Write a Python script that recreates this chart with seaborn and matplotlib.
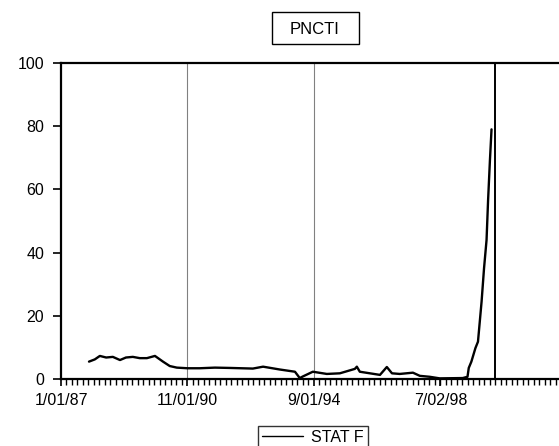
import pandas as pd
import matplotlib
matplotlib.use("Agg")
import matplotlib.pyplot as plt
import matplotlib.dates as mdates
from matplotlib.patches import Rectangle
import seaborn as sns

# Series: STAT F for PNCTI
dates = [
    "1987-11-07", "1988-01-10", "1988-03-06", "1988-05-15", "1988-07-28",
    "1988-10-15", "1988-12-20", "1989-03-06", "1989-05-22", "1989-08-09",
    "1989-11-06", "1990-02-03", "1990-04-19", "1990-07-06", "1990-11-01",
    "1991-03-16", "1991-09-01", "1992-02-15", "1992-10-25", "1993-02-15",
    "1993-08-20", "1994-02-03", "1994-03-28", "1994-05-01", "1994-08-20",
    "1995-01-22", "1995-06-15", "1995-11-28", "1995-12-20", "1996-01-22",
    "1996-09-01", "1996-11-16", "1997-01-12", "1997-04-08", "1997-09-01",
    "1997-11-16", "1998-03-06", "1998-06-25", "1999-03-06", "1999-04-28",
    "1999-05-12", "1999-06-10", "1999-07-25", "1999-08-22", "1999-10-01",
    "1999-10-28", "1999-11-25", "1999-12-12", "2000-01-01", "2000-01-19",
]
stat_f = [
    5.5, 6.2, 7.3, 6.8, 7.0,
    6.0, 6.8, 7.0, 6.6, 6.6,
    7.3, 5.5, 4.1, 3.6, 3.4,
    3.4, 3.6, 3.5, 3.3, 3.9,
    3.0, 2.3, 0.3, 0.8, 2.3,
    1.6, 1.8, 3.2, 3.9, 2.3,
    1.3, 3.8, 1.8, 1.6, 2.0,
    1.0, 0.7, 0.2, 0.3, 0.7,
    3.5, 5.5, 9.8, 11.8, 24.5,
    35.0, 44.0, 56.6, 69.0, 79.0,
]

# Reference dates marked on the chart
tick_dates = ["1987-01-01", "1990-11-01", "1994-09-01", "1998-07-02"]
tick_labels = ["1/01/87", "11/01/90", "9/01/94", "7/02/98"]
grey_marks = ["1990-11-01", "1994-09-01"]
break_mark = "2000-02-25"

df = pd.DataFrame({"date": pd.to_datetime(dates), "STAT F": stat_f})

sns.set_theme(style="white")
plt.rcParams["font.family"] = ["Liberation Sans", "DejaVu Sans"]
plt.rcParams["text.color"] = "black"

W, H = 559, 446
fig = plt.figure(figsize=(W / 100, H / 100), dpi=100)
ax = fig.add_axes([61 / W, 1 - 379 / H, 1 - 61 / W, (379 - 63) / H])

sns.lineplot(data=df, x="date", y="STAT F", ax=ax, color="black",
             linewidth=1.7, label="STAT F", legend=False)

for d in grey_marks:
    ax.axvline(pd.Timestamp(d), color="#808080", linewidth=0.8, zorder=1)
ax.axvline(pd.Timestamp(break_mark), color="black", linewidth=1.4, zorder=1)

ax.set_xlim(pd.Timestamp("1987-01-01"), pd.Timestamp("2002-02-04"))
ax.set_ylim(0, 100)
ax.set_yticks([0, 20, 40, 60, 80, 100])
ax.set_xticks(pd.to_datetime(tick_dates))
ax.set_xticklabels(tick_labels)
ax.xaxis.set_minor_locator(mdates.MonthLocator(interval=2))
ax.set_xlabel("")
ax.set_ylabel("")

for side in ["left", "bottom", "top"]:
    ax.spines[side].set_visible(True)
    ax.spines[side].set_color("black")
    ax.spines[side].set_linewidth(1.6)
ax.spines["right"].set_visible(False)

ax.tick_params(axis="y", which="major", direction="out", length=6,
               width=1.2, color="black", labelsize=11.5, labelcolor="black",
               pad=6, left=True, right=False)
ax.tick_params(axis="x", which="major", direction="out", length=5,
               width=1.2, color="black", labelsize=11.5, labelcolor="black",
               pad=5, bottom=True, top=False)
ax.tick_params(axis="x", which="minor", direction="out", length=4,
               width=1.0, color="black", bottom=True, top=False)

# Title in a framed box
fig.patches.append(Rectangle((272 / W, 1 - 44 / H), 87 / W, 32 / H,
                             transform=fig.transFigure, facecolor="white",
                             edgecolor="black", linewidth=1.0))
fig.text(315 / W, 1 - 29 / H, "PNCTI", ha="center", va="center",
         fontsize=12, color="black")

handles, labels = ax.get_legend_handles_labels()
leg = fig.legend(handles, labels, loc="upper center",
                 bbox_to_anchor=(313 / W, 1 - 426 / H), fontsize=11.5,
                 frameon=True, fancybox=False, shadow=False,
                 borderaxespad=0.0, handlelength=2.6, borderpad=0.25,
                 handletextpad=0.5, labelcolor="black")
leg.get_frame().set_edgecolor("black")
leg.get_frame().set_linewidth(1.0)
for line in leg.get_lines():
    line.set_linewidth(1.0)

fig.savefig("out.png", dpi=100, facecolor="white")
